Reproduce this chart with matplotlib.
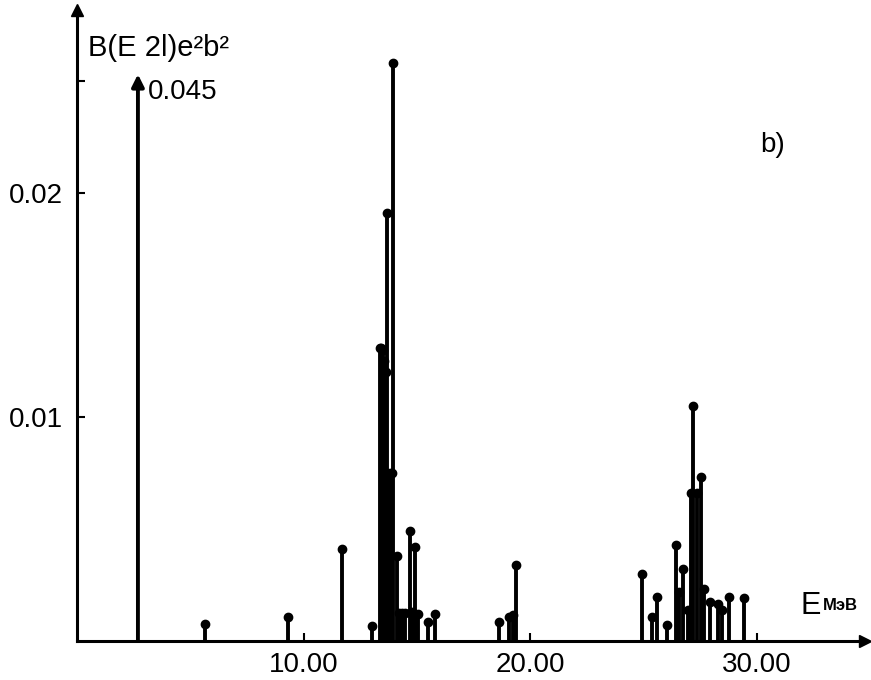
import numpy as np
import matplotlib.pyplot as plt

# energies (MeV) and B(E2) values (e^2 b^2)
energy = [5.65, 9.32, 11.70, 13.02,
          13.38, 13.43, 13.49, 13.56, 13.63, 13.69, 13.82, 13.91, 13.96, 14.13, 14.22, 14.35,
          14.49, 14.70, 14.79, 14.92, 15.05, 15.50, 15.81,
          18.63, 19.07, 19.25, 19.38,
          24.94, 25.39, 25.61, 26.05, 26.45, 26.58, 26.76, 26.98, 27.10, 27.19,
          27.37, 27.55, 27.68, 27.95, 28.30, 28.48, 28.79, 29.45]
b_e2 = [0.00076, 0.00107, 0.0041, 0.00065,
        0.0131, 0.0131, 0.0130, 0.0125, 0.0120, 0.0191, 0.0075, 0.0075, 0.0258, 0.0038, 0.00125, 0.00125,
        0.00125, 0.0049, 0.0013, 0.0042, 0.0012, 0.00085, 0.0012,
        0.00085, 0.00107, 0.00115, 0.0034,
        0.0030, 0.00107, 0.00196, 0.0007, 0.0043, 0.0022, 0.0032, 0.0014, 0.0066, 0.0105,
        0.0066, 0.0073, 0.0023, 0.00174, 0.00165, 0.0014, 0.00196, 0.0019]

# off-scale line (0.045) drawn with an arrow
big_e = 2.69
big_val = 0.045
big_top = 0.0253

xticks = [10, 20, 30]
xtick_labels = ['10.00', '20.00', '30.00']
yticks = [0.01, 0.02, 0.025]
ytick_labels = ['0.01', '0.02', '']

plt.rcParams['font.family'] = ['Liberation Sans', 'DejaVu Sans']

fig = plt.figure(figsize=(8.71, 6.80), dpi=100)
ax = fig.add_axes([77/871, 39/680, 788/871, 631/680])
ax.set_xlim(0, 788/22.65)
ax.set_ylim(0, 631/22400)

ax.vlines(energy, 0, b_e2, color='black', linewidth=2.8)
ax.plot(energy, b_e2, 'o', color='black', markersize=6)

ax.annotate('', xy=(big_e, big_top), xytext=(big_e, 0),
            arrowprops=dict(arrowstyle='-|>', color='black', lw=2.8,
                            mutation_scale=18, shrinkA=0, shrinkB=0))
ax.text(big_e + 0.45, 0.0245, '%.3f' % big_val, fontsize=20, va='center')

for side in ['top', 'right']:
    ax.spines[side].set_visible(False)
ax.spines['left'].set_linewidth(2.2)
ax.spines['bottom'].set_linewidth(2.2)
ax.plot(1, 0, '>', color='black', markersize=9, transform=ax.get_yaxis_transform(), clip_on=False)
ax.plot(0, 1, '^', color='black', markersize=8, transform=ax.get_xaxis_transform(), clip_on=False)

ax.set_xticks(xticks)
ax.set_xticklabels(xtick_labels, fontsize=20)
ax.set_yticks(yticks)
ax.set_yticklabels(ytick_labels, fontsize=20)
ax.tick_params(direction='in', length=6, width=1.5, pad=8)
ax.tick_params(axis='y', pad=10)

fig.text(88/871, 1 - 48/680, 'B(E 2l)e²b²', fontsize=21, va='center')
fig.text(760/871, 1 - 145/680, 'b)', fontsize=20, va='center')
fig.text(800/871, 1 - 606/680, 'E', fontsize=22, va='center')
fig.text(823/871, 1 - 606/680, 'МэВ', fontsize=12, fontweight='bold', va='center')

plt.savefig('out.png', dpi=100)
